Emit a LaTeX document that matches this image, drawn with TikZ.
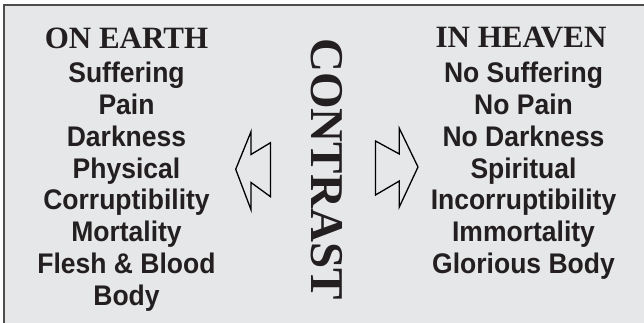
\documentclass[tikz,border=0pt]{standalone}
\usepackage{fontspec}
\setmainfont{Liberation Serif}
\setsansfont{Liberation Sans}
\usepackage{graphicx}
\definecolor{bg}{HTML}{E6E7E8}
\definecolor{ink}{HTML}{231F20}
\definecolor{framecol}{HTML}{4D4D4D}
\newcommand\tallsans[1]{\scalebox{1}[1.07]{#1}}
\tikzset{
  head/.style={anchor=base, text=ink, inner sep=0pt, font=\bfseries\fontsize{31}{31}\selectfont},
  item/.style={anchor=base, text=ink, inner sep=0pt, font=\sffamily\bfseries\fontsize{26.5}{26.5}\selectfont},
  vert/.style={text=ink, inner sep=0pt, rotate=-90, font=\bfseries\fontsize{47}{47}\selectfont},
  hollow/.style={draw=black, line width=1.3pt, line join=miter, fill=none}
}
\begin{document}
\begin{tikzpicture}[x=1pt,y=1pt]
\useasboundingbox (0,0) rectangle (644,-323);
\fill[bg] (4,-5) rectangle (644,-323);
\draw[framecol, line width=1.5pt] (4,-323) -- (4,-5) -- (644,-5);

% left column
\node[head] (earth) at (126.5,-49) {ON EARTH};
\node[item] (l1) at (126.5,-82.7) {\tallsans{Suffering}};
\node[item] (l2) at (126.5,-114.5) {\tallsans{Pain}};
\node[item] (l3) at (126.5,-146.2) {\tallsans{Darkness}};
\node[item] (l4) at (126.5,-178) {\tallsans{Physical}};
\node[item] (l5) at (126.5,-209.7) {\tallsans{Corruptibility}};
\node[item] (l6) at (126.5,-241.5) {\tallsans{Mortality}};
\node[item] (l7) at (126.5,-273.2) {\tallsans{Flesh \& Blood}};
\node[item] (l8) at (126.5,-305) {\tallsans{Body}};

% right column
\node[head] (heaven) at (521,-48) {IN HEAVEN};
\node[item] (r1) at (523.5,-82.7) {\tallsans{No Suffering}};
\node[item] (r2) at (523.5,-114.5) {\tallsans{No Pain}};
\node[item] (r3) at (523.5,-146.2) {\tallsans{No Darkness}};
\node[item] (r4) at (523.5,-178) {\tallsans{Spiritual}};
\node[item] (r5) at (523.5,-209.7) {\tallsans{Incorruptibility}};
\node[item] (r6) at (523.5,-241.5) {\tallsans{Immortality}};
\node[item] (r7) at (523.5,-273.2) {\tallsans{Glorious Body}};

% centre word
\node[vert] (contrast) at (326.5,-169) {CONTRAST};

% hollow arrows
\draw[hollow] (235.7,-169.3) -- (251,-131.7) -- (251,-154.5) -- (270.5,-142.7)
  -- (270.5,-196.7) -- (251,-182.5) -- (251,-209.7) -- cycle;
\draw[hollow] (418,-167) -- (399.3,-128.3) -- (399.3,-154) -- (375.5,-141)
  -- (375.5,-195) -- (399.3,-181) -- (399.3,-207) -- cycle;
\end{tikzpicture}
\end{document}
